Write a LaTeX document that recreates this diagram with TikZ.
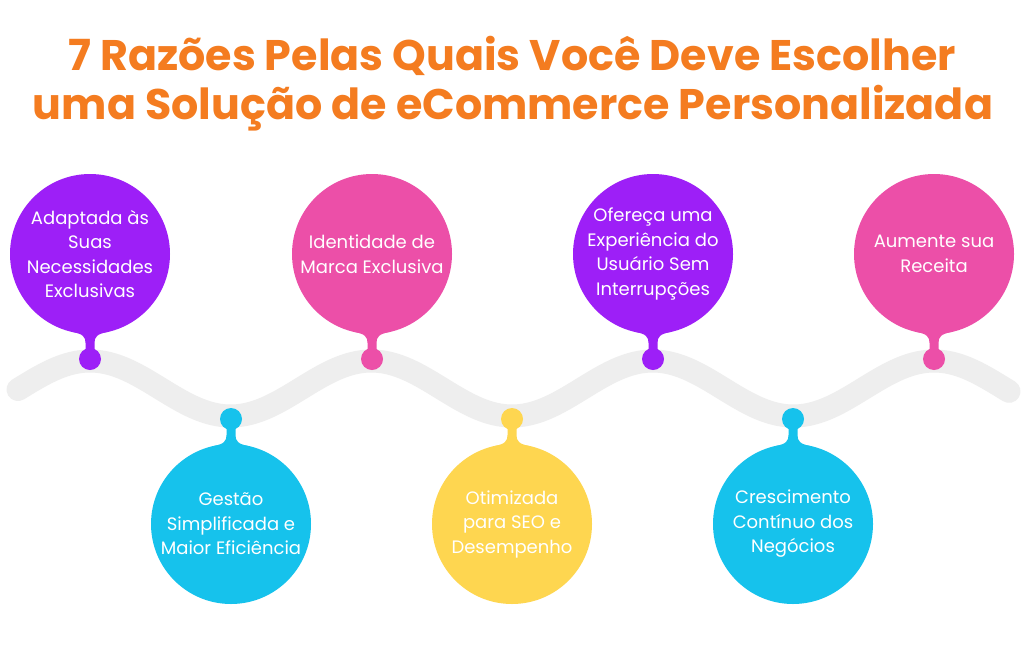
\documentclass[tikz,border=0pt]{standalone}
\usepackage{fontspec}
\setmainfont{Poppins}
\definecolor{ttl}{RGB}{244,124,32}
\definecolor{cpur}{RGB}{157,31,247}
\definecolor{cpink}{RGB}{236,79,168}
\definecolor{ccyan}{RGB}{22,194,236}
\definecolor{cyel}{RGB}{254,214,80}
\definecolor{band}{RGB}{238,238,238}
\newcommand\topstem[2]{%
  \fill[#2] ({#1-17},332) .. controls ({#1-7},334) and ({#1-4.5},337) .. ({#1-4.5},343) -- ({#1-4.5},351) -- ({#1+4.5},351) -- ({#1+4.5},343) .. controls ({#1+4.5},337) and ({#1+7},334) .. ({#1+17},332) -- ({#1},320) -- cycle;}
\newcommand\botstem[2]{%
  \fill[#2] ({#1-17},446) .. controls ({#1-7},444) and ({#1-4.5},441) .. ({#1-4.5},435) -- ({#1-4.5},427) -- ({#1+4.5},427) -- ({#1+4.5},435) .. controls ({#1+4.5},441) and ({#1+7},444) .. ({#1+17},446) -- ({#1},458) -- cycle;}
\begin{document}
\begin{tikzpicture}[x=1pt,y=-1pt,
  bubble/.style={circle,fill=#1,minimum size=160pt,inner sep=0pt},
  btext/.style={align=center,text=white,inner sep=0pt,
    font=\fontsize{18}{24.5}\selectfont},
  drop/.style={circle,fill=#1,minimum size=22pt,inner sep=0pt},
  title/.style={text=ttl,font=\fontsize{42.8}{49}\selectfont\bfseries,align=center,inner sep=0pt}]
\useasboundingbox[fill=white] (0,0) rectangle (1024,648);
\node[title,anchor=base] (t1) at (512,70) {7 Razões Pelas Quais Você Deve Escolher};
\node[title,anchor=base] (t2) at (513,119) {uma Solução de eCommerce Personalizada};
% band
\draw[band,line width=23pt,line cap=round] plot[domain=18:1009,samples=240,smooth] (\x,{388.5-27.5*cos((\x-90)*1.27959)});
% stems
\topstem{90}{cpur}
\topstem{372}{cpink}
\topstem{653}{cpur}
\topstem{934}{cpink}
\botstem{231}{ccyan}
\botstem{512}{cyel}
\botstem{793}{ccyan}
% drops
\node[drop=cpur] (d1) at (90,359) {};
\node[drop=cpink] (d2) at (372,359) {};
\node[drop=cpur] (d3) at (653,359) {};
\node[drop=cpink] (d4) at (934,359) {};
\node[drop=ccyan] (d5) at (231,419) {};
\node[drop=cyel] (d6) at (512,419) {};
\node[drop=ccyan] (d7) at (793,419) {};
% bubbles
\node[bubble=cpur] (b1) at (90,254) {};
\node[bubble=cpink] (b2) at (372,254) {};
\node[bubble=cpur] (b3) at (653,254) {};
\node[bubble=cpink] (b4) at (934,254) {};
\node[bubble=ccyan] (b5) at (231,524) {};
\node[bubble=cyel] (b6) at (512,524) {};
\node[bubble=ccyan] (b7) at (793,524) {};
\node[btext] (l1) at (b1) {Adaptada às\\Suas\\Necessidades\\Exclusivas};
\node[btext] (l2) at (b2) {Identidade de\\Marca Exclusiva};
\node[btext] (l3) at (b3) {Ofereça uma\\Experiência do\\Usuário Sem\\Interrupções};
\node[btext] (l4) at (b4) {Aumente sua\\Receita};
\node[btext] (l5) at (b5) {Gestão\\Simplificada e\\Maior Eficiência};
\node[btext] (l6) at (b6) {Otimizada\\para SEO e\\Desempenho};
\node[btext] (l7) at (b7) {Crescimento\\Contínuo dos\\Negócios};
\end{tikzpicture}
\end{document}
